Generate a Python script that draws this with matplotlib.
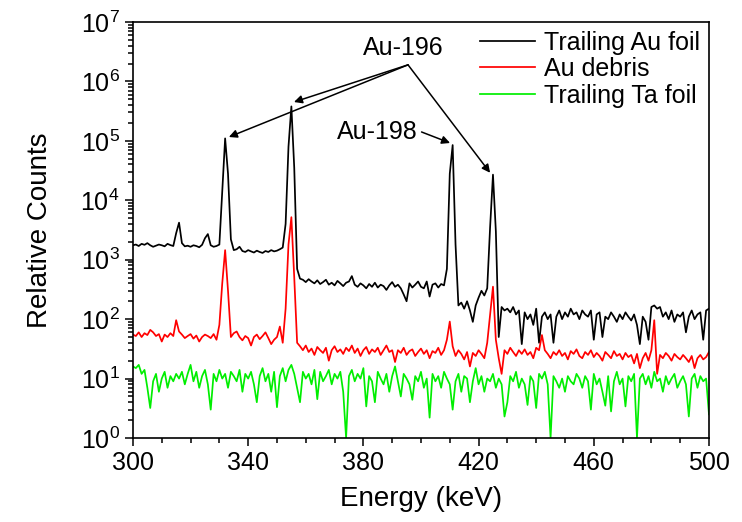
import numpy as np
import matplotlib
matplotlib.use('Agg')
import matplotlib.pyplot as plt
from matplotlib.ticker import MultipleLocator, LogLocator

plt.rcParams['font.family'] = ['Liberation Sans', 'DejaVu Sans']
plt.rcParams['mathtext.default'] = 'regular'

# gamma spectra, 1 keV per channel from 300 to 500 keV
energy = np.arange(300, 501)

au_foil = [
    1750, 1800, 1700, 1850, 1780, 1900, 1750, 1650, 1720, 1800,
    1750, 1680, 1850, 1760, 1700, 2800, 4200, 1900, 1680, 1720,
    1650, 1750, 1700, 1620, 1780, 2300, 2700, 1750, 1650, 1700,
    1800, 14000, 110000, 28000, 2200, 1450, 1500, 1650, 1400, 1350,
    1450, 1380, 1320, 1420, 1350, 1300, 1400, 1350, 1450, 1380,
    1420, 1500, 1600, 4000, 80000, 380000, 35000, 700, 480, 460,
    420, 470, 430, 400, 450, 390, 420, 460, 380, 410,
    370, 440, 400, 360, 410, 430, 530, 380, 350, 400,
    370, 330, 390, 350, 410, 340, 380, 360, 310, 370,
    420, 350, 380, 330, 260, 200, 400, 340, 380, 430,
    350, 330, 430, 240, 380, 400, 340, 390, 370, 700,
    28000, 85000, 1800, 170, 190, 150, 200, 140, 90, 170,
    230, 300, 250, 330, 3500, 27000, 3000, 50, 160, 140,
    150, 130, 160, 120, 140, 38, 130, 100, 120, 80,
    150, 40, 110, 130, 100, 120, 40, 110, 140, 100,
    130, 110, 150, 120, 130, 100, 140, 120, 110, 140,
    45, 120, 130, 50, 110, 100, 130, 110, 90, 120,
    100, 130, 110, 95, 120, 80, 38, 110, 90, 45,
    160, 170, 150, 160, 110, 130, 100, 140, 90, 120,
    110, 130, 60, 110, 140, 100, 120, 130, 45, 140,
    150,
]

au_debris = [
    55, 52, 60, 50, 58, 54, 66, 60, 52, 56,
    42, 55, 50, 58, 52, 96, 62, 55, 48, 52,
    56, 47, 53, 42, 50, 55, 52, 48, 56, 45,
    80, 400, 1450, 300, 50, 58, 62, 50, 44, 52,
    48, 36, 50, 55, 46, 52, 60, 48, 38, 45,
    50, 75, 40, 150, 1800, 5200, 500, 40, 35, 30,
    36, 28, 32, 25, 34, 30, 27, 33, 20, 30,
    35, 28, 31, 26, 33, 29, 36, 27, 32, 24,
    30, 34, 26, 31, 28, 33, 25, 30, 36, 28,
    30, 19, 30, 27, 33, 25, 29, 31, 24, 28,
    32, 26, 30, 22, 29, 27, 33, 25, 30, 45,
    91, 35, 24, 30, 26, 21, 28, 16, 27, 24,
    30, 26, 22, 40, 120, 352, 45, 22, 12, 30,
    26, 33, 28, 24, 30, 26, 31, 25, 28, 22,
    33, 30, 54, 30, 26, 22, 28, 25, 30, 24,
    27, 21, 29, 26, 31, 24, 22, 28, 25, 30,
    23, 27, 24, 20, 28, 25, 22, 29, 24, 26,
    21, 27, 23, 25, 18, 26, 15, 22, 27, 20,
    30, 96, 12, 25, 22, 27, 24, 20, 26, 23,
    21, 25, 22, 19, 24, 15, 22, 25, 21, 23,
    28,
]

ta_foil = [
    16, 15, 17, 12, 14, 7, 3.2, 9, 12, 6,
    10, 13, 7, 11, 9, 12, 10, 13, 8, 12,
    17, 9, 13, 7, 11, 14, 8, 3, 12, 9,
    14, 10, 12, 7, 13, 11, 9, 14, 6, 12,
    10, 13, 8, 4, 11, 15, 9, 12, 6, 13,
    3.3, 11, 15, 9, 14, 17, 12, 7, 4, 13,
    10, 12, 8, 14, 4.5, 13, 9, 11, 14, 8,
    12, 10, 13, 6, 1, 11, 14, 9, 12, 10,
    15, 3.4, 11, 9, 4, 13, 10, 8, 12, 6,
    11, 16, 9, 5, 12, 10, 8, 4.4, 11, 9,
    13, 7, 10, 2.2, 12, 9, 11, 7, 13, 10,
    8, 3, 9, 12, 6, 11, 10, 4, 9, 15,
    8, 11, 6, 10, 9, 12, 7, 10, 8, 2.3,
    4, 11, 9, 13, 7, 10, 8, 3.6, 11, 9,
    3.2, 12, 10, 13, 8, 1, 11, 9, 7, 10,
    6, 11, 9, 8, 12, 10, 7, 11, 9, 3,
    12, 8, 10, 6, 3.5, 11, 2.8, 9, 13, 8,
    10, 3.4, 11, 9, 12, 1, 10, 12, 8, 11,
    7, 13, 9, 10, 6, 11, 8, 10, 12, 7,
    9, 11, 8, 2.3, 10, 12, 7, 11, 9, 10,
    2.5,
]

fig = plt.figure(figsize=(7.42, 5.22), dpi=100)
ax = fig.add_axes([0.1792, 0.1609, 0.7763, 0.797])

ax.plot(energy, au_foil, color='black', lw=1.25, label='Trailing Au foil')
ax.plot(energy, au_debris, color='#ff0000', lw=1.25, label='Au debris')
ax.plot(energy, ta_foil, color='#00ee00', lw=1.25, label='Trailing Ta foil')

ax.set_yscale('log')
ax.set_xlim(300, 500)
ax.set_ylim(1, 1e7)
ax.set_xticks(np.arange(300, 501, 40))
ax.xaxis.set_minor_locator(MultipleLocator(10))
ax.yaxis.set_major_locator(LogLocator(base=10, numticks=10))
ax.yaxis.set_minor_locator(LogLocator(base=10, subs=np.arange(2, 10), numticks=20))
ax.tick_params(which='both', direction='out', top=False, right=False,
               labelsize=18, width=1.1)
ax.tick_params(which='major', length=6)
ax.tick_params(which='minor', length=3.5)
for s in ax.spines.values():
    s.set_linewidth(1.2)

ax.set_xlabel('Energy (keV)', fontsize=20, labelpad=8)
ax.set_ylabel('Relative Counts', fontsize=20, labelpad=20)

leg = ax.legend(loc='upper right', frameon=False, fontsize=18,
                handlelength=2.2, handletextpad=0.35, labelspacing=0.1,
                borderpad=0.2, borderaxespad=0.15)

# peak labels
arrow = dict(arrowstyle='-|>', color='black', lw=1.1, mutation_scale=12,
             shrinkA=0, shrinkB=0)
ax.text(393.8, 3.6e6, 'Au-196', fontsize=18, ha='center', va='center')
start = (395.5, 1.9e6)
for target in [(333.3, 1.16e5), (355.9, 4.5e5), (424.0, 2.9e4)]:
    ax.annotate('', xy=target, xytext=start, arrowprops=arrow)
ax.text(384.9, 1.41e5, 'Au-198', fontsize=18, ha='center', va='center')
ax.annotate('', xy=(410.1, 9.2e4), xytext=(400.2, 1.41e5), arrowprops=arrow)

fig.savefig('out.png', dpi=100)
